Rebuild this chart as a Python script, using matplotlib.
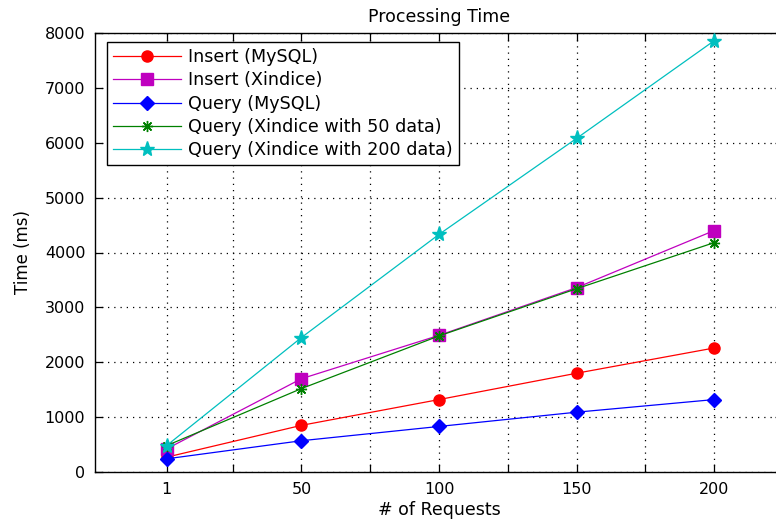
import matplotlib
matplotlib.use("Agg")
import matplotlib.pyplot as plt
from matplotlib.ticker import FixedLocator

plt.rcParams['font.family'] = ['DejaVu Sans']

requests = [1, 50, 100, 150, 200]
insert_mysql = [270, 850, 1320, 1800, 2260]
insert_xindice = [420, 1700, 2490, 3360, 4400]
query_mysql = [240, 570, 830, 1090, 1320]
query_xindice_50 = [480, 1520, 2480, 3340, 4180]
query_xindice_200 = [480, 2450, 4330, 6080, 7860]

labels = ["Insert (MySQL)", "Insert (Xindice)", "Query (MySQL)",
          "Query (Xindice with 50 data)", "Query (Xindice with 200 data)"]
xticks = [1, 50, 100, 150, 200]
xtick_labels = ["1", "50", "100", "150", "200"]
xminor = [25, 75, 125, 175]
yticks = [0, 1000, 2000, 3000, 4000, 5000, 6000, 7000, 8000]

fig = plt.figure(figsize=(7.76, 5.2), dpi=100)
ax = fig.add_axes([95/776, 1 - 472/520, 688/776, 439/520])

lw = 0.9
ax.plot(requests, insert_mysql, color='#ff0000', lw=lw, marker='o', ms=8,
        mec='#ff0000', mfc='#ff0000', label=labels[0], zorder=3)
ax.plot(requests, insert_xindice, color='#bf00bf', lw=lw, marker='s', ms=8,
        mec='#bf00bf', mfc='#bf00bf', label=labels[1], zorder=3)
ax.plot(requests, query_mysql, color='#0000ff', lw=lw, marker='D', ms=7,
        mec='#0000ff', mfc='#0000ff', label=labels[2], zorder=3)
ax.plot(requests, query_xindice_50, color='#008000', lw=lw, marker=(8, 2, 0), ms=8,
        mec='#008000', mew=1.0, label=labels[3], zorder=3)
ax.plot(requests, query_xindice_200, color='#00bfbf', lw=lw, marker='*', ms=11,
        mec='#00bfbf', mfc='#00bfbf', label=labels[4], zorder=3)

ax.set_xlim(-25, 225)
ax.set_ylim(0, 8000)
ax.set_xticks(xticks)
ax.set_xticklabels(xtick_labels)
ax.xaxis.set_minor_locator(FixedLocator(xminor))
ax.set_yticks(yticks)

ax.tick_params(axis='both', which='both', direction='in', top=True, right=True,
               labelsize=11.5, pad=7, width=0.9, color='black')
ax.tick_params(axis='both', which='major', length=6)
ax.tick_params(axis='x', which='minor', length=6)

ax.grid(True, which='major', axis='both', color='black', linestyle=(0, (1, 4)), lw=0.9)
ax.grid(True, which='minor', axis='x', color='black', linestyle=(0, (1, 4)), lw=0.9)

for s in ax.spines.values():
    s.set_linewidth(1.0)
    s.set_color('black')

ax.set_title("Processing Time", fontsize=12.5, pad=8)
ax.set_xlabel("# of Requests", fontsize=12.5, labelpad=3)
ax.set_ylabel("Time (ms)", fontsize=12, labelpad=9)

leg = ax.legend(loc='upper left', bbox_to_anchor=((107 - 95) / 688, (472 - 42) / 439),
                fontsize=12.6, handlelength=3.9, labelspacing=0.3, borderpad=0.35,
                handletextpad=0.4, borderaxespad=0, fancybox=False, framealpha=1,
                edgecolor='black')
leg.get_frame().set_linewidth(1.0)

fig.savefig("out.png", dpi=100)
